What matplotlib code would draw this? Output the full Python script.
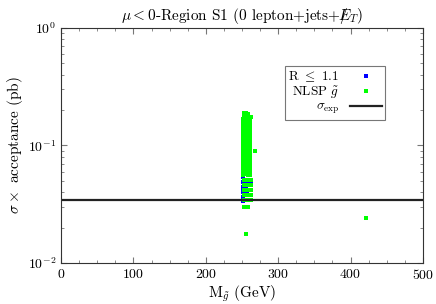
"""Gluino-mass scan, mu < 0, region S1: sigma x acceptance vs M_gluino."""
import matplotlib
matplotlib.use("Agg")
import matplotlib.pyplot as plt
from matplotlib.ticker import MultipleLocator, LogLocator, NullFormatter

plt.rcParams["font.family"] = "serif"
plt.rcParams["font.serif"] = ["cmr10", "DejaVu Serif"]
plt.rcParams["mathtext.fontset"] = "cm"
plt.rcParams["axes.formatter.use_mathtext"] = True
plt.rcParams["axes.unicode_minus"] = False

# points with R <= 1.1 (blue, drawn underneath)
r_mass = [251, 251, 251, 251, 251, 251, 251, 251, 251, 251,
          251.5, 251.5, 251.5, 251.5, 253, 256, 259, 262, 251.5, 251.5,
          251.5, 251, 252, 255, 251, 257, 251]
r_sigma = [0.150, 0.138, 0.126, 0.115, 0.104, 0.095, 0.086, 0.078, 0.070, 0.063,
           0.058, 0.054, 0.0485, 0.044, 0.0475, 0.0475, 0.0475, 0.0475, 0.040, 0.0365,
           0.0335, 0.121, 0.0435, 0.0435, 0.0715, 0.0395, 0.1]

# points with NLSP gluino (green)
nlsp_mass = [253, 256, 259, 253, 256, 259, 262, 252, 255, 258, 261, 252, 255, 258, 261,
             252, 255, 258, 261, 252, 255, 258, 261, 252, 255, 258, 261, 252, 255, 258,
             261, 252, 255, 258, 261, 252, 255, 258, 261, 252, 255, 258, 261, 252, 255,
             258, 261, 252, 255, 258, 261, 252, 255, 258, 261, 252, 255, 258, 261, 252,
             255, 258, 261, 252, 255, 258, 261, 252, 255, 258, 261, 252, 255, 258, 261,
             252, 255, 258, 261, 252, 255, 258, 261, 252, 255, 258, 261,
             253, 256, 259, 262, 253, 256, 259, 262, 253, 256, 259, 262,
             253, 256, 259, 262, 253, 256, 259, 262, 253, 256, 259,
             268, 421, 256]
nlsp_sigma = [0.188, 0.190, 0.186, 0.178, 0.180, 0.179, 0.174, 0.168, 0.170, 0.169, 0.165,
              0.158, 0.160, 0.159, 0.156, 0.149, 0.151, 0.150, 0.147, 0.141, 0.142, 0.141,
              0.139, 0.133, 0.134, 0.133, 0.131, 0.125, 0.126, 0.126, 0.124, 0.118, 0.119,
              0.119, 0.117, 0.111, 0.112, 0.112, 0.110, 0.105, 0.106, 0.105, 0.104, 0.099,
              0.100, 0.099, 0.098, 0.093, 0.094, 0.094, 0.093, 0.088, 0.089, 0.088, 0.087,
              0.083, 0.084, 0.083, 0.082, 0.078, 0.079, 0.079, 0.078, 0.074, 0.075, 0.074,
              0.073, 0.070, 0.071, 0.070, 0.069, 0.066, 0.067, 0.066, 0.065, 0.062, 0.063,
              0.062, 0.061, 0.059, 0.060, 0.059, 0.058, 0.056, 0.057, 0.056, 0.056,
              0.0505, 0.0505, 0.0505, 0.0505, 0.0465, 0.0465, 0.0465, 0.0465, 0.0420, 0.0420,
              0.0420, 0.0420, 0.0380, 0.0380, 0.0380, 0.0380, 0.0345, 0.0345, 0.0345, 0.0345,
              0.0300, 0.0300, 0.0300,
              0.090, 0.024, 0.0178]

sigma_exp = 0.0345

fig, ax = plt.subplots(figsize=(4.36, 3.04), dpi=100)
fig.subplots_adjust(left=0.14, right=0.97, top=0.908, bottom=0.135)

ax.plot(r_mass, r_sigma, ls="none", marker="s", ms=2.3, color="#0000ff",
        mew=0, label=r"R $\leq$ 1.1")
ax.plot(nlsp_mass, nlsp_sigma, ls="none", marker="s", ms=2.3, color="#00ff00",
        mew=0, label=r"NLSP $\tilde{g}$")
ax.axhline(sigma_exp, color="#222222", lw=1.6, label=r"$\sigma_{\rm exp}$")

ax.set_yscale("log")
ax.set_xlim(0, 500)
ax.set_ylim(1e-2, 1e0)
ax.xaxis.set_major_locator(MultipleLocator(100))
ax.xaxis.set_minor_locator(MultipleLocator(25))
ax.yaxis.set_minor_locator(LogLocator(base=10, subs=range(2, 10)))
ax.yaxis.set_minor_formatter(NullFormatter())
ax.tick_params(which="both", direction="in", top=True, right=True, color="#777777",
               labelsize=10)
ax.tick_params(which="major", length=4)
ax.tick_params(which="minor", length=2)
for sp in ax.spines.values():
    sp.set_color("#333333")

ax.set_title(r"$\mu < 0$-Region S1 (0 lepton+jets+$/\!\!\!\!E_T$)", fontsize=11, pad=6)
ax.set_xlabel(r"M$_{\tilde{g}}$ (GeV)", fontsize=11, labelpad=1)
ax.set_ylabel(r"$\sigma \times$ acceptance (pb)", fontsize=11, labelpad=2)

leg = ax.legend(loc="upper left", bbox_to_anchor=(0.619, 0.838), borderaxespad=0,
                markerfirst=False, fancybox=False, edgecolor="#555555", fontsize=9.5,
                handlelength=2.4, handletextpad=0.8, labelspacing=0.02, borderpad=0.25,
                markerscale=1.2)
leg.get_frame().set_linewidth(0.8)

fig.savefig("out.png", dpi=100)
